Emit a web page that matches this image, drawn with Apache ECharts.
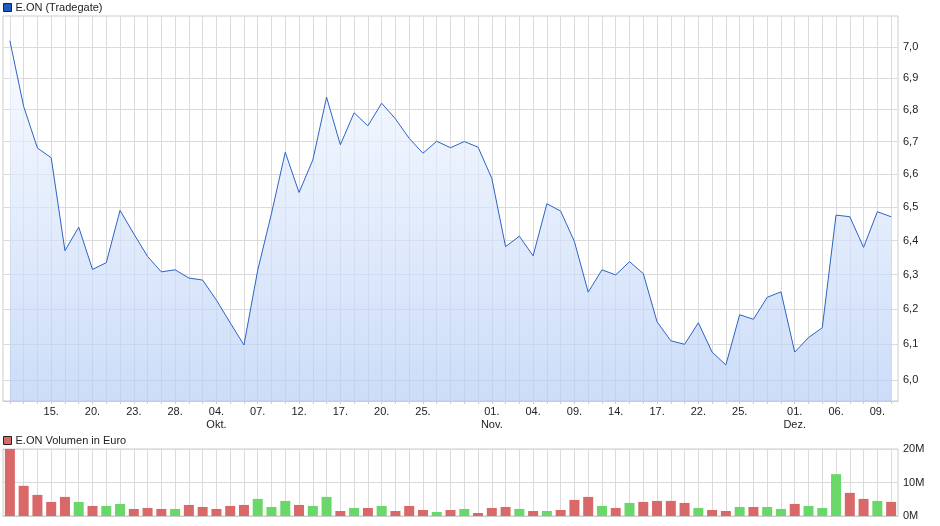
<!DOCTYPE html>
<html><head><meta charset="utf-8">
<script src="https://cdn.jsdelivr.net/npm/echarts@6/dist/echarts.min.js"></script>
<style>html,body{margin:0;padding:0;background:#fff}#c{width:940px;height:526px}</style>
</head><body><div id="c"></div>
<script>
const dates = [
'2016-09-12','2016-09-13','2016-09-14','2016-09-15','2016-09-16',
'2016-09-19','2016-09-20','2016-09-21','2016-09-22','2016-09-23',
'2016-09-26','2016-09-27','2016-09-28','2016-09-29','2016-09-30',
'2016-10-04','2016-10-05','2016-10-06','2016-10-07',
'2016-10-10','2016-10-11','2016-10-12','2016-10-13','2016-10-14',
'2016-10-17','2016-10-18','2016-10-19','2016-10-20','2016-10-21',
'2016-10-24','2016-10-25','2016-10-26','2016-10-27','2016-10-28',
'2016-10-31','2016-11-01','2016-11-02','2016-11-03','2016-11-04',
'2016-11-07','2016-11-08','2016-11-09','2016-11-10','2016-11-11',
'2016-11-14','2016-11-15','2016-11-16','2016-11-17','2016-11-18',
'2016-11-21','2016-11-22','2016-11-23','2016-11-24','2016-11-25',
'2016-11-28','2016-11-29','2016-11-30','2016-12-01','2016-12-02',
'2016-12-05','2016-12-06','2016-12-07','2016-12-08','2016-12-09',
'2016-12-12'];

const prices = [
7.02, 6.81, 6.68, 6.65, 6.37, 6.44, 6.315, 6.335, 6.49, 6.42,
6.353, 6.308, 6.314, 6.29, 6.284, 6.226, 6.161, 6.098, 6.313, 6.481,
6.667, 6.544, 6.643, 6.839, 6.69, 6.79, 6.749, 6.82, 6.771, 6.71,
6.664, 6.701, 6.681, 6.70, 6.683, 6.587, 6.382, 6.413, 6.355, 6.51,
6.488, 6.397, 6.249, 6.314, 6.299, 6.338, 6.303, 6.164, 6.11, 6.10,
6.161, 6.078, 6.042, 6.184, 6.171, 6.234, 6.25, 6.078, 6.119, 6.147,
6.476, 6.471, 6.38, 6.486, 6.471];

// volume in million EUR
const volumes = [
20, 9.0, 6.3, 4.2, 5.7, 4.2, 3.0, 3.0, 3.6, 2.1,
2.4, 2.1, 2.1, 3.3, 2.7, 2.1, 3.0, 3.3, 5.1, 2.7,
4.5, 3.3, 3.0, 5.7, 1.5, 2.4, 2.4, 3.0, 1.5, 3.0,
1.8, 1.2, 1.8, 2.1, 0.9, 2.4, 2.7, 2.1, 1.5, 1.5,
1.8, 4.8, 5.7, 3.0, 2.4, 3.9, 4.2, 4.5, 4.5, 3.9,
2.4, 1.8, 1.5, 2.7, 2.7, 2.7, 2.1, 3.6, 3.0, 2.4,
12.5, 6.9, 5.1, 4.5, 4.2];

// r = down day (red), g = up day (green)
const volumeDir = [
'r','r','r','r','r','g','r','g','g','r',
'r','r','g','r','r','r','r','r','g','g',
'g','r','g','g','r','g','r','g','r','r',
'r','g','r','g','r','r','r','g','r','g',
'r','r','r','g','r','g','r','r','r','r',
'g','r','r','g','r','g','g','r','g','g',
'g','r','r','g','r'];

const priceTicks = [6.0, 6.1, 6.2, 6.3, 6.4, 6.5, 6.6, 6.7, 6.8, 6.9, 7.0];
const priceRange = [5.942, 7.101];
const volumeTicks = [0, 10, 20];

const labelDates = ['2016-09-15','2016-09-20','2016-09-23','2016-09-28','2016-10-04',
'2016-10-07','2016-10-12','2016-10-17','2016-10-20','2016-10-25','2016-11-01','2016-11-04',
'2016-11-09','2016-11-14','2016-11-17','2016-11-22','2016-11-25','2016-12-01','2016-12-06','2016-12-09'];
const monthStartDates = ['2016-10-04','2016-11-01','2016-12-01'];
const monthNames = {'10':'Okt.','11':'Nov.','12':'Dez.'};

const FONT = 'Liberation Sans, Arial, sans-serif';
const GRID_C = '#dadada';
const BORDER_C = '#cccccc';
const labelSet = new Set(labelDates);
const dayIdx = dates.map((d, i) => i);

function xLabel(v) {
  const p = v.split('-');
  let s = p[2] + '.';
  if (monthStartDates.indexOf(v) >= 0) s += '\n' + monthNames[p[1]];
  return s;
}

function xAxisCfg(gi, showLabels) {
  return {
    type: 'category', gridIndex: gi, data: dates, boundaryGap: true,
    axisLine: {show: true, lineStyle: {color: BORDER_C}},
    axisTick: {show: showLabels, alignWithLabel: true, interval: 0, length: 3, lineStyle: {color: BORDER_C}},
    splitLine: {show: false},
    axisLabel: {
      show: showLabels, interval: (i, v) => labelSet.has(v), formatter: xLabel,
      fontFamily: FONT, fontSize: 11, color: '#222', margin: 4, lineHeight: 13
    }
  };
}
// hidden value axis that only draws one vertical grid line per trading day
function xGridAxisCfg(gi) {
  return {
    type: 'value', gridIndex: gi, min: -0.5, max: dates.length - 0.5,
    axisLine: {show: false},
    axisTick: {show: false, customValues: dayIdx},
    axisLabel: {show: false, customValues: dayIdx},
    splitLine: {show: true, lineStyle: {color: GRID_C, width: 1}}
  };
}

const chart = echarts.init(document.getElementById('c'), null, {renderer: 'canvas'});
chart.setOption({
  animation: false,
  grid: [
    {left: 3, right: 42, top: 16, height: 385, show: true, borderColor: BORDER_C, borderWidth: 1, containLabel: false},
    {left: 3, right: 42, top: 449, height: 67, show: true, borderColor: BORDER_C, borderWidth: 1, containLabel: false}
  ],
  legend: [
    {left: 3, top: 2, padding: 0, icon: 'rect', itemWidth: 8, itemHeight: 8,
     textStyle: {fontFamily: FONT, fontSize: 11, color: '#222', padding: [0, 0, 0, -1]},
     data: [{name: 'E.ON (Tradegate)', itemStyle: {color: '#1f5cc0', borderColor: '#0c2450', borderWidth: 1}}]},
    {left: 3, top: 435, padding: 0, icon: 'rect', itemWidth: 8, itemHeight: 8,
     textStyle: {fontFamily: FONT, fontSize: 11, color: '#222', padding: [0, 0, 0, -1]},
     data: [{name: 'E.ON Volumen in Euro', itemStyle: {color: '#d96868', borderColor: '#222', borderWidth: 1}}]}
  ],
  xAxis: [xAxisCfg(0, true), xAxisCfg(1, false), xGridAxisCfg(0), xGridAxisCfg(1)],
  yAxis: [
    {
      type: 'value', gridIndex: 0, position: 'right',
      min: Math.log(priceRange[0]), max: Math.log(priceRange[1]),
      axisLine: {show: false},
      axisTick: {show: false, customValues: priceTicks.map(Math.log)},
      axisLabel: {customValues: priceTicks.map(Math.log),
        formatter: v => Math.exp(v).toFixed(1).replace('.', ','),
        fontFamily: FONT, fontSize: 11, color: '#222', margin: 5},
      splitLine: {show: true, lineStyle: {color: GRID_C}}
    },
    {
      type: 'value', gridIndex: 1, position: 'right', min: volumeTicks[0], max: volumeTicks[volumeTicks.length - 1], interval: 10,
      axisLine: {show: false}, axisTick: {show: false},
      axisLabel: {formatter: v => v + 'M', fontFamily: FONT, fontSize: 11, color: '#222', margin: 5},
      splitLine: {show: true, lineStyle: {color: GRID_C}}
    }
  ],
  series: [
    {
      name: 'E.ON (Tradegate)', type: 'line', xAxisIndex: 0, yAxisIndex: 0,
      data: prices.map(Math.log), symbol: 'none', showSymbol: false,
      lineStyle: {color: '#2c63c4', width: 1},
      itemStyle: {color: '#1f5cc0'},
      areaStyle: {color: new echarts.graphic.LinearGradient(0, 0, 0, 1, [
        {offset: 0, color: '#f5f9ff'}, {offset: 1, color: '#b6cdf5'}])}
    },
    {
      name: 'E.ON Volumen in Euro', type: 'bar', xAxisIndex: 1, yAxisIndex: 1,
      barWidth: 10,
      itemStyle: {color: '#d96868'},
      data: volumes.map((v, i) => ({value: v, itemStyle: {color: volumeDir[i] === 'g' ? '#69d869' : '#d96868'}}))
    }
  ]
});
</script>
</body></html>
